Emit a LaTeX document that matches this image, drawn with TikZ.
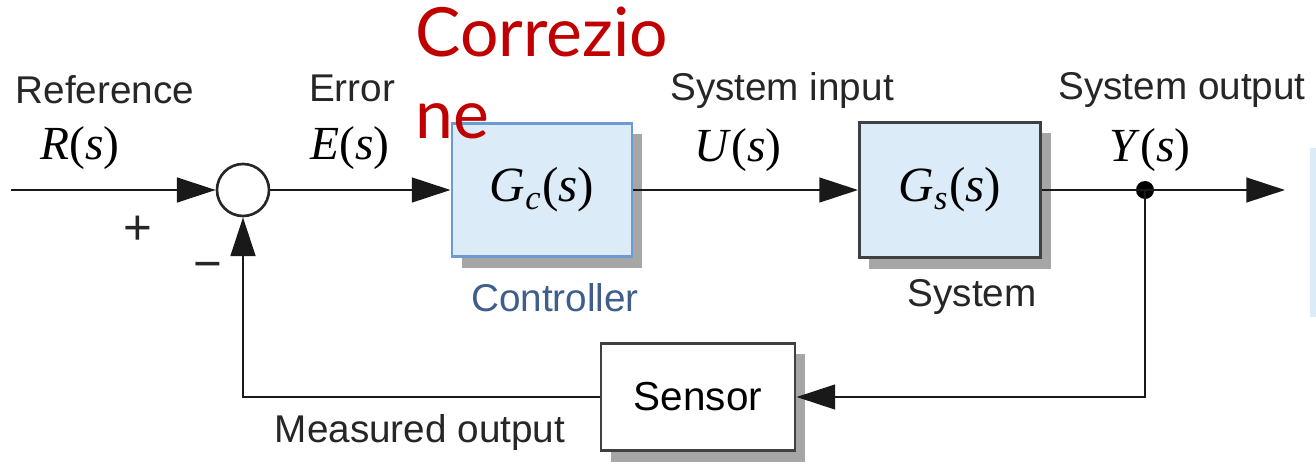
\documentclass[tikz,border=0pt]{standalone}
\usepackage{fontspec}
\setmainfont{Liberation Sans}
\newfontfamily\tmsfont{Liberation Serif}
\newfontfamily\corrfont{Lato}
\usetikzlibrary{arrows.meta,shadows,positioning}
\definecolor{boxfill}{HTML}{DCEBF8}
\definecolor{ctrlline}{HTML}{6C9BD2}
\definecolor{ctrltext}{HTML}{3F5E8C}
\definecolor{corrred}{HTML}{C00000}
\newcommand{\sigof}[1]{{\tmsfont\fontsize{13.5}{16}\selectfont\textit{#1}(\textit{s})}}
\newcommand{\tfof}[1]{{\tmsfont\fontsize{14}{16}\selectfont\textit{G}\textsubscript{\textit{#1}}(\textit{s})}}

\begin{document}
\begin{tikzpicture}[x=0.01cm,y=-0.01cm]
\tikzstyle{lbl} = [inner sep=0, text=black!85, font=\fontsize{11}{13}\selectfont]
\tikzstyle{blk} = [draw=black!75, line width=0.8pt, fill=boxfill, inner sep=0,
    drop shadow={shadow xshift=0.1cm, shadow yshift=-0.11cm, fill=black!35, opacity=1}]
\tikzstyle{wire} = [line width=0.75pt, draw=black!90, -{Triangle[length=11pt,width=7pt]}]
\useasboundingbox (0,0) rectangle (1316,464);
\fill[boxfill] (1310,148) rectangle (1316,317);

\node[circle, draw=black!85, line width=0.75pt, minimum size=0.52cm, inner sep=0] (sum) at (243,190) {};
\node[blk, draw=ctrlline, minimum width=1.8cm, minimum height=1.33cm] (ctrl) at (542,190) {\tfof{c}};
\node[blk, minimum width=1.81cm, minimum height=1.35cm] (sys) at (950,190) {\tfof{s}};
\node[blk, fill=white, minimum width=1.94cm, minimum height=1.07cm] (sensor) at (698,397)
    {\fontsize{11.5}{13}\selectfont Sensor};
\node[circle, fill=black, minimum size=0.18cm, inner sep=0] (branch) at (1145,190) {};
\coordinate (in) at (11,190);
\coordinate (out) at (1285,190);

\node[lbl] (ref) at (105,90) {Reference};
\node[inner sep=0] (rs) at (80,148) {\sigof{R}};
\node[lbl, font=\fontsize{14}{16}\selectfont] (plus) at (138,230) {+};
\node[lbl, font=\fontsize{14}{16}\selectfont] (minus) at (208,271) {\textminus};
\node[lbl] (err) at (352,88) {Error};
\node[inner sep=0] (es) at (350,148) {\sigof{E}};
\node[lbl] (uin) at (782,90) {System input};
\node[inner sep=0] (us) at (738,150) {\sigof{U}};
\node[lbl] (yout) at (1182,90) {System output};
\node[inner sep=0] (ys) at (1150,150) {\sigof{Y}};
\node[lbl, text=ctrltext] (ctrllbl) at (555,298) {Controller};
\node[lbl] (syslbl) at (972,297) {System};
\node[lbl] (meas) at (420,432) {Measured output};
\node[anchor=north west, inner sep=0, align=left, text=corrred,
    font=\corrfont\fontsize{19.3}{23.5}\selectfont] (corr) at (415,6) {Correzio\\ne};

\draw[wire] (in) -- (sum);
\draw[wire] (sum) -- (ctrl);
\draw[wire] (ctrl) -- (sys);
\draw[wire] (sys) -- (out);
\draw[wire] (branch.center) |- (sensor);
\draw[wire] (sensor) -| (sum);
\end{tikzpicture}
\end{document}
